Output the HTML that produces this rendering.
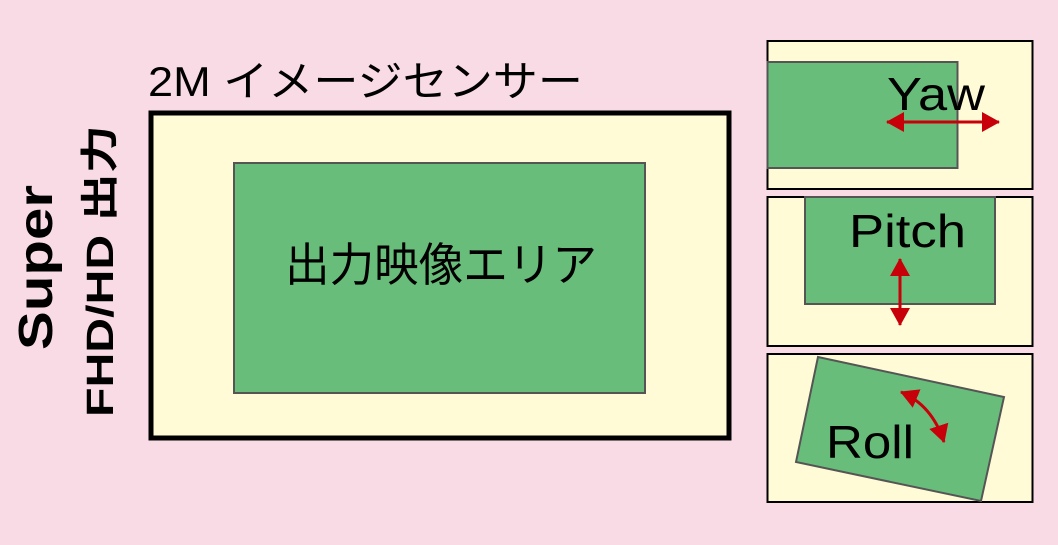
<!DOCTYPE html>
<html><head><meta charset="utf-8"><style>
html,body{margin:0;padding:0;background:#f9dbe6}
svg{display:block}
text{font-family:"Liberation Sans","Noto Sans CJK JP",sans-serif;fill:#000}
</style></head><body>
<svg width="1058" height="545" viewBox="0 0 1058 545" xmlns="http://www.w3.org/2000/svg">
<defs>
<marker id="ah" viewBox="0 0 18 20" refX="17" refY="10" markerUnits="userSpaceOnUse" markerWidth="18" markerHeight="20" orient="auto-start-reverse">
<path d="M0,0 L18,10 L0,20 z" fill="#c8000a"/></marker>
</defs>
<rect width="1058" height="545" fill="#f9dbe6"/>
<text x="148" y="96" font-size="42" textLength="435" lengthAdjust="spacingAndGlyphs">2M イメージセンサー</text>
<rect x="151" y="113" width="578" height="325" fill="#fffbd6" stroke="#000" stroke-width="5"/>
<rect x="234" y="163" width="411" height="230" fill="#69bd7a" stroke="#555" stroke-width="2"/>
<text x="285" y="281" font-size="46" textLength="312" lengthAdjust="spacingAndGlyphs">出力映像エリア</text>
<text transform="translate(52,350) rotate(-90)" font-size="48" font-weight="bold" textLength="165" lengthAdjust="spacingAndGlyphs">Super</text>
<text transform="translate(113,417) rotate(-90)" font-size="38" font-weight="bold" textLength="292" lengthAdjust="spacingAndGlyphs">FHD/HD 出力</text>

<rect x="767.5" y="41" width="265" height="148" fill="#fffbd6" stroke="#000" stroke-width="2"/>
<rect x="767.5" y="62" width="190" height="106" fill="#69bd7a" stroke="#555" stroke-width="2"/>
<text x="887" y="110" font-size="46" textLength="98" lengthAdjust="spacingAndGlyphs">Yaw</text>
<line x1="887" y1="122" x2="999" y2="122" stroke="#c8000a" stroke-width="3" marker-start="url(#ah)" marker-end="url(#ah)"/>

<rect x="767.5" y="197" width="265" height="149" fill="#fffbd6" stroke="#000" stroke-width="2"/>
<rect x="805" y="197" width="190" height="107" fill="#69bd7a" stroke="#555" stroke-width="2"/>
<text x="849" y="247" font-size="46" textLength="117" lengthAdjust="spacingAndGlyphs">Pitch</text>
<line x1="900" y1="259" x2="900" y2="325" stroke="#c8000a" stroke-width="3" marker-start="url(#ah)" marker-end="url(#ah)"/>

<rect x="767.5" y="354" width="265" height="148" fill="#fffbd6" stroke="#000" stroke-width="2"/>
<polygon points="818,357 1004,397 981,501 796,462" fill="#69bd7a" stroke="#555" stroke-width="2"/>
<text x="826" y="458" font-size="46" textLength="88" lengthAdjust="spacingAndGlyphs">Roll</text>
<path d="M901,392 Q932,405 944,442" fill="none" stroke="#c8000a" stroke-width="3" marker-start="url(#ah)" marker-end="url(#ah)"/>
</svg>
</body></html>
